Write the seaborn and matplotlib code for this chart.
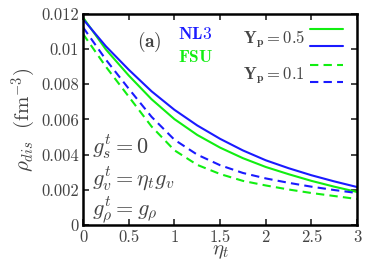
import numpy as np
import pandas as pd
import seaborn as sns
import matplotlib
matplotlib.use("Agg")
import matplotlib.pyplot as plt
from matplotlib.lines import Line2D
from matplotlib.legend_handler import HandlerBase

# values
eta = [0, 0.25, 0.5, 0.75, 1.0, 1.25, 1.5, 1.75, 2.0, 2.25, 2.5, 2.75, 3.0]
nl3_05 = [0.01170, 0.01016, 0.00883, 0.00760, 0.00655, 0.00566, 0.00490, 0.00424, 0.00368, 0.00323, 0.00283, 0.00248, 0.00216]
fsu_05 = [0.01180, 0.00998, 0.00850, 0.00715, 0.00602, 0.00512, 0.00440, 0.00380, 0.00330, 0.00289, 0.00251, 0.00218, 0.00188]
nl3_01 = [0.01124, 0.00940, 0.00775, 0.00615, 0.00485, 0.00400, 0.00340, 0.00296, 0.00265, 0.00240, 0.00218, 0.00199, 0.00182]
fsu_01 = [0.01086, 0.00900, 0.00730, 0.00560, 0.00425, 0.00342, 0.00290, 0.00251, 0.00225, 0.00202, 0.00182, 0.00165, 0.00148]

green = "#11ee11"
blue = "#1a1aff"
grey = "#444444"

sns.set_theme(style="ticks")
plt.rcParams["font.family"] = "serif"
plt.rcParams["font.serif"] = ["cmr10", "DejaVu Serif"]
plt.rcParams["mathtext.fontset"] = "cm"
plt.rcParams["axes.formatter.use_mathtext"] = True

fig = plt.figure(figsize=(3.74, 2.62), dpi=100)
ax = fig.add_axes([0.222, 0.141, 0.733, 0.806])

dash = (4, 2.5)
sns.lineplot(x=eta, y=fsu_05, color=green, lw=1.5, ax=ax)
sns.lineplot(x=eta, y=nl3_05, color=blue, lw=1.5, ax=ax)
sns.lineplot(x=eta, y=fsu_01, color=green, lw=1.5, ax=ax).lines[-1].set_dashes(dash)
sns.lineplot(x=eta, y=nl3_01, color=blue, lw=1.5, ax=ax).lines[-1].set_dashes(dash)

ax.set_xlim(0, 3)
ax.set_ylim(0, 0.012)
ax.set_xticks([0, 0.5, 1, 1.5, 2, 2.5, 3])
ax.set_xticklabels(["0", "0.5", "1", "1.5", "2", "2.5", "3"])
ax.set_yticks([0, 0.002, 0.004, 0.006, 0.008, 0.01, 0.012])
ax.set_yticklabels(["0", "0.002", "0.004", "0.006", "0.008", "0.01", "0.012"])
ax.tick_params(direction="in", length=4, width=1.2, top=True, right=True,
               labelsize=12, labelcolor=grey, pad=3)
for s in ax.spines.values():
    s.set_linewidth(1.8)
    s.set_color("black")

ax.set_xlabel(r"$\eta_t$", fontsize=15, color=grey, labelpad=-1)
ax.set_ylabel(r"$\rho_{dis}\ \ (\mathrm{fm}^{-3})$", fontsize=15, color=grey, labelpad=2)

ax.text(0.73, 0.0104, r"$(\mathbf{a})$", fontsize=14, color=grey, ha="center", va="center")
ax.text(1.04, 0.01085, r"$\mathbf{NL3}$", fontsize=12.5, color=blue, ha="left", va="center")
ax.text(1.04, 0.00955, r"$\mathbf{FSU}$", fontsize=12.5, color=green, ha="left", va="center")

ax.text(0.1, 0.00409, r"$g^t_s = 0$", fontsize=16, color=grey, va="baseline")
ax.text(0.1, 0.00227, r"$g^t_v = \eta_t g_v$", fontsize=16, color=grey, va="baseline")
ax.text(0.1, 0.00057, r"$g^t_\rho = g_\rho$", fontsize=16, color=grey, va="baseline")


class PairHandler(HandlerBase):
    # two line samples stacked vertically, gnuplot style
    def create_artists(self, legend, orig_handle, xdescent, ydescent, width, height, fontsize, trans):
        out = []
        mid = height / 2 - ydescent
        for i, h in enumerate(orig_handle):
            y = mid + (0.52 - 1.04 * i) * fontsize
            ln = Line2D([-xdescent, -xdescent + width], [y, y], color=h.get_color(), lw=1.5)
            if h.get_linestyle() != "-":
                ln.set_dashes(dash)
            ln.set_transform(trans)
            out.append(ln)
        return out


h05 = (Line2D([], [], color=green, ls="-"), Line2D([], [], color=blue, ls="-"))
h01 = (Line2D([], [], color=green, ls="--"), Line2D([], [], color=blue, ls="--"))
leg = ax.legend([h05, h01], [r"$\mathbf{Y_p = 0.5}$", r"$\mathbf{Y_p = 0.1}$"],
                handler_map={tuple: PairHandler()}, loc="upper right",
                bbox_to_anchor=(0.985, 0.985), frameon=False, markerfirst=False,
                fontsize=12, handlelength=2.0, handleheight=1.6, labelspacing=0.75,
                handletextpad=0.3, borderaxespad=0.2)
for t in leg.get_texts():
    t.set_color(grey)

fig.savefig("out.png", dpi=100)
